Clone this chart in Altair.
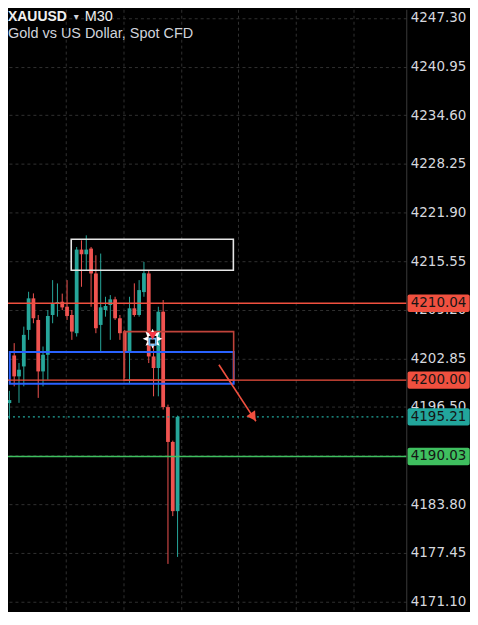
import math
import altair as alt
import pandas as pd

# ---------------- data ----------------
candle_idx = list(range(37))
opens = [4199.41, 4197.00, 4203.22, 4200.49, 4201.79, 4206.56, 4210.68, 4207.86, 4201.14, 4203.31,
         4208.51, 4210.00, 4210.24, 4209.59, 4208.51, 4206.13, 4217.05, 4216.44, 4217.18, 4213.93,
         4207.21, 4209.16, 4209.81, 4210.55, 4208.08, 4206.34, 4203.74, 4209.38, 4208.51, 4211.50,
         4213.93, 4203.09, 4201.58, 4208.94, 4196.48, 4191.93, 4182.89]
highs = [4199.60, 4198.60, 4204.83, 4202.23, 4206.99, 4211.54, 4211.33, 4208.51, 4204.39, 4209.16,
         4213.06, 4212.63, 4211.30, 4213.06, 4209.16, 4217.39, 4218.26, 4218.91, 4217.39, 4216.31,
         4216.53, 4210.89, 4211.11, 4210.89, 4208.51, 4206.56, 4210.89, 4212.64, 4213.06, 4215.44,
         4214.36, 4204.83, 4209.59, 4210.46, 4196.80, 4192.10, 4195.37]
lows = [4195.60, 4194.90, 4199.19, 4197.03, 4199.19, 4205.26, 4207.43, 4197.68, 4199.19, 4200.06,
        4207.43, 4208.29, 4209.15, 4207.86, 4205.26, 4205.69, 4212.19, 4214.36, 4209.59, 4206.13,
        4203.74, 4208.29, 4205.26, 4207.86, 4205.26, 4200.28, 4199.63, 4208.29, 4208.29, 4210.89,
        4202.23, 4197.89, 4197.89, 4196.16, 4176.00, 4182.24, 4176.91]
closes = [4197.07, 4197.40, 4200.49, 4201.36, 4205.91, 4210.68, 4208.08, 4201.14, 4203.31, 4208.38,
          4209.94, 4210.20, 4209.50, 4208.38, 4206.34, 4217.05, 4216.44, 4217.05, 4213.93, 4206.78,
          4209.51, 4209.68, 4210.55, 4208.08, 4206.13, 4203.74, 4209.38, 4208.51, 4211.76, 4213.97,
          4203.09, 4201.58, 4208.94, 4196.48, 4191.93, 4182.89, 4195.21]

tick_values = [4247.30, 4240.95, 4234.60, 4228.25, 4221.90, 4215.55, 4209.20,
               4202.85, 4196.50, 4190.15, 4183.80, 4177.45, 4171.10]
grid_idx = [12.80, 24.84, 36.70, 48.62, 60.60, 72.52]

level_prices = [4210.04, 4200.00, 4190.03]
level_labels = ["4210.04", "4200.00", "4190.03"]
last_price = [4195.21]
last_label = ["4195.21"]

zone_x1 = [13.87, 1.08, 24.84]
zone_x2 = [47.61, 47.67, 47.67]
zone_top = [4218.39, 4203.66, 4206.34]
zone_bot = [4214.36, 4199.54, 4200.00]

arrow_x = [44.6]
arrow_y = [4202.01]
arrow_x2 = [52.3]
arrow_y2 = [4194.63]
arrow_head_x = [51.75]
arrow_head_y = [4195.18]

signal_x = [30.8]
signal_y = [4205.40]

# ---------------- styles ----------------
UP = "#26a69a"
DOWN = "#ef5350"
LINE_RED = "#f0503f"
GREEN = "#3fbf5f"
TEAL = "#22a69c"
GRID = "#303030"
zone_colors = ["#e6e6e6", "#2962ff", "#c0433a"]
zone_widths = [1.6, 2.0, 1.6]
level_colors = [LINE_RED, LINE_RED, GREEN]

W, H = 400, 604
PX = 7.69
y_top = 4247.30 + (16.7 - 8) / PX
y_bot = y_top - H / PX
x_lo = 1 + (8 - 4.3) / 4.95
x_hi = 1 + (408 - 4.3) / 4.95

ysc = alt.Scale(domain=[y_bot, y_top], zero=False, nice=False)
xsc = alt.Scale(domain=[x_lo, x_hi], zero=False, nice=False)

yaxis = alt.Axis(orient="right", values=tick_values, format=".2f", title=None, ticks=False,
                 domain=True, domainColor="#3a3a3a", domainWidth=1,
                 grid=True, gridColor=GRID, gridDash=[3, 3], gridWidth=1,
                 labelColor="#d6d8de", labelFont="DejaVu Sans", labelFontSize=13.5,
                 labelPadding=4, labelOverlap=False)
xaxis = alt.Axis(values=grid_idx, labels=False, ticks=False, domain=False, title=None,
                 grid=True, gridColor=GRID, gridDash=[3, 3], gridWidth=1)


def X(f):
    return alt.X(f, type="quantitative", scale=xsc, axis=xaxis)


def Y(f):
    return alt.Y(f, type="quantitative", scale=ysc, axis=yaxis)


cdf = pd.DataFrame({"i": candle_idx, "o": opens, "h": highs, "l": lows, "c": closes})
cdf["col"] = [UP if c >= o else DOWN for o, c in zip(opens, closes)]

wicks = alt.Chart(cdf).mark_rule(strokeWidth=1).encode(
    x=X("i"), y=Y("l"), y2="h:Q", color=alt.Color("col:N", scale=None))
bodies = alt.Chart(cdf).mark_bar(size=3.8).encode(
    x=X("i"), y=Y("o"), y2="c:Q", color=alt.Color("col:N", scale=None))

zdf = pd.DataFrame({"x1": zone_x1, "x2": zone_x2, "t": zone_top, "b": zone_bot,
                    "c": zone_colors, "w": zone_widths})
zones = alt.Chart(zdf).mark_rect(fillOpacity=0).encode(
    x=X("x1"), x2="x2:Q", y=Y("t"), y2="b:Q",
    stroke=alt.Stroke("c:N", scale=None), strokeWidth=alt.StrokeWidth("w:Q", scale=None))

ldf = pd.DataFrame({"p": level_prices, "c": level_colors, "lab": level_labels})
levels = alt.Chart(ldf).mark_rule(strokeWidth=1.4).encode(
    y=Y("p"), x=alt.value(0), x2=alt.value(W), color=alt.Color("c:N", scale=None))

pdf = pd.DataFrame({"p": last_price, "lab": last_label})
lastline = alt.Chart(pdf).mark_rule(strokeWidth=1.3, strokeDash=[2, 3], color=TEAL).encode(
    y=Y("p"), x=alt.value(0), x2=alt.value(W))

adf = pd.DataFrame({"x": arrow_x, "y": arrow_y, "x2": arrow_x2, "y2": arrow_y2})
arrow = alt.Chart(adf).mark_rule(strokeWidth=1.6, color=LINE_RED).encode(
    x=X("x"), y=Y("y"), x2="x2:Q", y2="y2:Q")
hdf = pd.DataFrame({"x": arrow_head_x, "y": arrow_head_y})
head = alt.Chart(hdf).mark_point(shape="triangle-up", filled=True, angle=146, size=110,
                                 color=LINE_RED, opacity=1).encode(x=X("x"), y=Y("y"))

# burst outline for the signal icon
pts = []
for k in range(16):
    r = 1.0 if k % 2 == 0 else 0.55
    a = math.pi * 2 * k / 16
    pts.append(f"{r * math.sin(a):.3f},{-r * math.cos(a):.3f}")
burst = "M" + " L".join(pts) + " Z"

sdf = pd.DataFrame({"x": signal_x, "y": signal_y})
sig_burst = alt.Chart(sdf).mark_point(shape=burst, filled=True, size=400, color="#ffffff",
                                      opacity=1).encode(x=X("x"), y=Y("y"))
sig_inner = alt.Chart(sdf).mark_point(shape="square", filled=True, size=60, color="#000000",
                                      opacity=1, yOffset=1).encode(x=X("x"), y=Y("y"))
sig_box = alt.Chart(sdf).mark_point(shape="square", filled=False, size=40, color="#6bb8f5",
                                    strokeWidth=1.6, opacity=1, yOffset=3).encode(x=X("x"), y=Y("y"))
sig_arrow = alt.Chart(sdf).mark_point(shape="triangle-down", filled=True, size=80, color="#f23645",
                                      opacity=1, yOffset=-3).encode(x=X("x"), y=Y("y"))

tag_df = pd.DataFrame({"p": level_prices + last_price, "lab": level_labels + last_label,
                       "c": level_colors + [TEAL]})
tags = alt.Chart(tag_df).mark_rect(yOffset=-8.7, y2Offset=8.7, cornerRadius=2).encode(
    y=Y("p"), y2="p:Q", x=alt.value(401.3), x2=alt.value(463.7),
    color=alt.Color("c:N", scale=None))
tag_text = alt.Chart(tag_df).mark_text(align="left", baseline="middle", font="DejaVu Sans",
                                       fontSize=13.5, color="#151515").encode(
    y=Y("p"), x=alt.value(404.5), text="lab:N")

title1 = alt.Chart(pd.DataFrame({"t": ["XAUUSD"]})).mark_text(
    align="left", baseline="alphabetic", font="Liberation Sans", fontSize=14, fontWeight="bold",
    color="#f0f0f0").encode(text="t:N", x=alt.value(0), y=alt.value(12))
title1b = alt.Chart(pd.DataFrame({"t": ["▾"]})).mark_text(
    align="left", baseline="alphabetic", font="DejaVu Sans", fontSize=10,
    color="#d1d4dc").encode(text="t:N", x=alt.value(66), y=alt.value(11))
title1c = alt.Chart(pd.DataFrame({"t": ["M30"]})).mark_text(
    align="left", baseline="alphabetic", font="Liberation Sans", fontSize=14.5,
    color="#f0f0f0").encode(text="t:N", x=alt.value(77), y=alt.value(12))
title2 = alt.Chart(pd.DataFrame({"t": ["Gold vs US Dollar, Spot CFD"]})).mark_text(
    align="left", baseline="alphabetic", font="Liberation Sans", fontSize=14.5,
    color="#d1d4dc").encode(text="t:N", x=alt.value(0), y=alt.value(28.5))

chart = alt.layer(
    wicks, bodies, zones, levels, lastline, arrow, head,
    sig_burst, sig_inner, sig_box, sig_arrow, tags, tag_text,
    title1, title1b, title1c, title2,
).properties(
    width=W, height=H,
    autosize=alt.AutoSizeParams(type="none"),
    padding={"left": 0, "top": 0, "right": 64, "bottom": 0},
    background="#000000",
).configure_view(stroke="#000000", strokeWidth=0)

chart.save("out.html", embed_options={"renderer": "svg", "actions": False})
